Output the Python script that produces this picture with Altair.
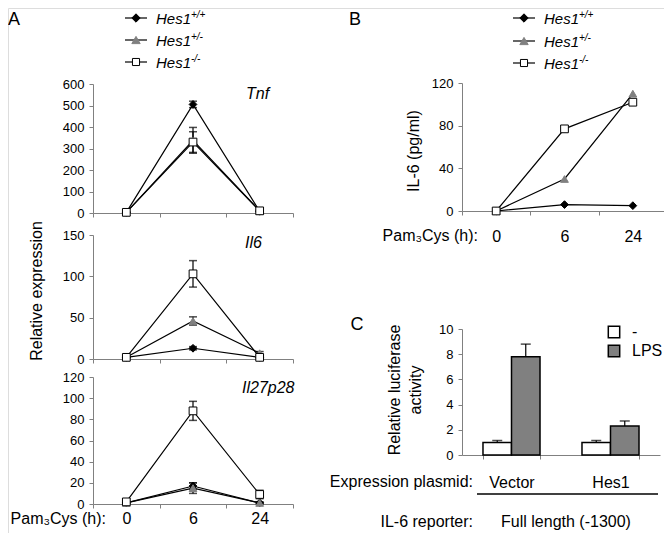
import altair as alt
import pandas as pd

# ---------------- data ----------------
times = ["0", "6", "24"]
genotypes = ["+/+", "+/-", "-/-"]

tnf_mean = {"+/+": [3, 505, 8], "+/-": [3, 338, 10], "-/-": [3, 330, 10]}
tnf_err = {"+/+": [1, 15, 2], "+/-": [1, 60, 3], "-/-": [1, 48, 3]}
il6_mean = {"+/+": [2, 13, 2], "+/-": [2, 46, 7], "-/-": [2, 103, 2]}
il6_err = {"+/+": [0.5, 2, 0.5], "+/-": [0.5, 5, 2], "-/-": [0.5, 16, 2]}
il27_mean = {"+/+": [1, 17, 1], "+/-": [1, 15, 1], "-/-": [2, 88, 9]}
il27_err = {"+/+": [0.5, 3, 0.5], "+/-": [0.5, 5, 1], "-/-": [1, 9, 4]}
elisa_il6 = {"+/+": [0, 6, 5], "+/-": [0, 30, 110], "-/-": [0, 77, 102]}

plasmids = ["Vector", "Hes1"]
treatments = ["-", "LPS"]
luc_mean = {"-": [1.0, 1.0], "LPS": [7.8, 2.3]}
luc_err = {"-": [0.15, 0.15], "LPS": [1.0, 0.4]}

# ---------------- layout / style ----------------
W, H = 656, 525
M = 8
FONT = "Liberation Sans"
GRAY = "#808080"
AX = "#808080"
SHAPES = ["diamond", "triangle-up", "square"]
FILLS = ["black", GRAY, "white"]
STROKES = ["black", GRAY, "black"]


def X(v):
    return v - M


def Y(v):
    return v - M


one = pd.DataFrame({"k": [0]})
layers = []


def txt(s, x, y, size=16, align="left", italic=False, angle=0, baseline="middle"):
    kw = dict(text=s, fontSize=size, align=align, baseline=baseline, font=FONT, color="black")
    if italic:
        kw["fontStyle"] = "italic"
    if angle:
        kw["angle"] = angle
    layers.append(alt.Chart(one).mark_text(**kw).encode(x=alt.value(X(x)), y=alt.value(Y(y))))


def series_df(means, errs=None):
    rows = []
    for g in genotypes:
        for i, t in enumerate(times):
            m = means[g][i]
            e = errs[g][i] if errs else 0
            rows.append({"g": g, "t": t, "i": i, "v": m, "lo": m - e, "hi": m + e})
    return pd.DataFrame(rows)


def x_axis(ybase, labels, pad):
    return alt.Axis(orient="bottom", offset=Y(ybase) - H, tickBand="extent", labels=labels,
                    title=None, grid=False, domainColor=AX, tickColor=AX, tickSize=4,
                    domainWidth=1, tickWidth=1, labelFontSize=16, labelColor="black",
                    labelPadding=pad, labelAngle=0, labelFont=FONT)


def y_axis(xbase, vals):
    return alt.Axis(orient="left", offset=-X(xbase), values=vals, title=None, grid=False,
                    domainColor=AX, tickColor=AX, tickSize=4, domainWidth=1, tickWidth=1,
                    labelFontSize=13, labelColor="black", labelPadding=5, labelFont=FONT)


def line_panel(df, xr, yr, ymax, yvals, show_labels, xpad, with_err):
    xs = alt.Scale(type="band", domain=times, range=[X(xr[0]), X(xr[1])], paddingInner=0, paddingOuter=0)
    ys = alt.Scale(type="linear", domain=[0, ymax], range=[Y(yr[0]), Y(yr[1])], nice=False, zero=False)
    base = alt.Chart(df)
    xn = alt.X("t:N", scale=xs, axis=None, bandPosition=0.5, sort=times)
    layers.append(base.mark_line(color="black", strokeWidth=1.2).encode(
        x=alt.X("t:N", scale=xs, axis=x_axis(yr[0], show_labels, xpad), bandPosition=0.5, sort=times),
        y=alt.Y("v:Q", scale=ys, axis=y_axis(xr[0], yvals)),
        detail="g:N", order="i:Q"))
    if with_err:
        layers.append(base.mark_rule(color="black", strokeWidth=1.2).encode(
            x=xn, y=alt.Y("lo:Q", scale=ys, axis=None), y2="hi:Q"))
        for f in ["lo", "hi"]:
            layers.append(base.mark_tick(orient="horizontal", color="black", size=8, thickness=1.5).encode(
                x=xn, y=alt.Y(f + ":Q", scale=ys, axis=None)))
    layers.append(base.mark_point(filled=True, opacity=1, strokeWidth=1, size=60).encode(
        x=xn, y=alt.Y("v:Q", scale=ys, axis=None),
        shape=alt.Shape("g:N", scale=alt.Scale(domain=genotypes, range=SHAPES), legend=None),
        fill=alt.Fill("g:N", scale=alt.Scale(domain=genotypes, range=FILLS), legend=None),
        stroke=alt.Stroke("g:N", scale=alt.Scale(domain=genotypes, range=STROKES), legend=None)))


def legend(xl0, xl1, xm, xt, ys):
    for k, (g, yy) in enumerate(zip(genotypes, ys)):
        layers.append(alt.Chart(one).mark_rule(color="black", strokeWidth=1.2).encode(
            x=alt.value(X(xl0)), x2=alt.value(X(xl1)), y=alt.value(Y(yy))))
        layers.append(alt.Chart(one).mark_point(shape=SHAPES[k], filled=True, fill=FILLS[k],
                                                stroke=STROKES[k], strokeWidth=1, opacity=1,
                                                size=70 if k != 2 else 50).encode(
            x=alt.value(X(xm)), y=alt.value(Y(yy))))
        txt("Hes1", xt, yy + 1, size=15, italic=True)
        txt(g, xt + 35, yy - 3, size=10, italic=True)


# ---------------- panel A ----------------
txt("A", 14, 20, size=18, align="center")
legend(125, 147, 136, 156, [18, 40, 62])
line_panel(series_df(tnf_mean, tnf_err), (93, 293), (213, 84), 600,
           [0, 100, 200, 300, 400, 500, 600], False, 1, True)
line_panel(series_df(il6_mean, il6_err), (93, 293), (359, 235), 150,
           [0, 50, 100, 150], False, 1, True)
line_panel(series_df(il27_mean, il27_err), (93, 293), (504, 377), 120,
           [0, 20, 40, 60, 80, 100, 120], True, 2, True)
txt("Tnf", 246, 94, italic=True)
txt("Il6", 245, 243, italic=True)
txt("Il27p28", 242, 388, italic=True)
txt("Relative expression", 37, 291, angle=270, align="center")
txt("Pam\u2083Cys (h):", 106, 519, align="right")

# ---------------- panel B ----------------
txt("B", 355, 20, size=18, align="center")
legend(513, 535, 524, 544, [18, 41, 63])
line_panel(series_df(elisa_il6), (462, 667), (211, 83), 120, [0, 40, 80, 120], True, 13, False)
txt("IL-6 (pg/ml)", 414, 151, angle=270, align="center")
txt("Pam\u2083Cys (h):", 478, 236, align="right")

# ---------------- panel C ----------------
txt("C", 357, 325, size=18, align="center")
dfc = pd.DataFrame([
    {"p": p, "tr": tr, "v": luc_mean[tr][j], "hi": luc_mean[tr][j] + luc_err[tr][j]}
    for tr in treatments for j, p in enumerate(plasmids)
])
xs_c = alt.Scale(type="band", domain=plasmids, range=[X(462), X(660)], paddingInner=0.424, paddingOuter=0.212)
xo_c = alt.Scale(type="band", domain=treatments, paddingInner=0, paddingOuter=0)
ys_c = alt.Scale(type="linear", domain=[0, 10], range=[Y(455), Y(329)], nice=False, zero=False)
basec = alt.Chart(dfc)
layers.append(basec.mark_rule(color="black", strokeWidth=1.2).encode(
    x=alt.X("p:N", scale=xs_c, axis=None, sort=plasmids),
    xOffset=alt.XOffset("tr:N", scale=xo_c, sort=treatments),
    y=alt.Y("v:Q", scale=ys_c, axis=None), y2="hi:Q"))
layers.append(basec.mark_tick(orient="horizontal", color="black", size=10, thickness=1.5).encode(
    x=alt.X("p:N", scale=xs_c, axis=None, sort=plasmids),
    xOffset=alt.XOffset("tr:N", scale=xo_c, sort=treatments),
    y=alt.Y("hi:Q", scale=ys_c, axis=None)))
layers.append(basec.mark_bar(stroke="black", strokeWidth=1.5, opacity=1).encode(
    x=alt.X("p:N", scale=xs_c, axis=x_axis(455, True, 15), sort=plasmids),
    xOffset=alt.XOffset("tr:N", scale=xo_c, sort=treatments),
    y=alt.Y("v:Q", scale=ys_c, axis=y_axis(462, [0, 2, 4, 6, 8, 10])),
    fill=alt.Fill("tr:N", scale=alt.Scale(domain=treatments, range=["white", GRAY]), legend=None)))
txt("Relative luciferase", 395, 390, angle=270, align="center")
txt("activity", 416, 390, angle=270, align="center")
for k, (tr, yy) in enumerate(zip(treatments, [332, 351])):
    layers.append(alt.Chart(one).mark_point(shape="square", filled=True, fill=["white", GRAY][k],
                                            stroke="black", strokeWidth=1.5, opacity=1, size=130).encode(
        x=alt.value(X(614)), y=alt.value(Y(yy))))
    txt(tr, 632, yy)
txt("Expression plasmid:", 473, 482, align="right")
layers.append(alt.Chart(one).mark_rule(color="black", strokeWidth=1.5).encode(
    x=alt.value(X(477)), x2=alt.value(X(658)), y=alt.value(Y(494))))
txt("IL-6 reporter:", 473, 522, align="right")
txt("Full length (-1300)", 566, 522, align="center")

chart = alt.layer(*layers).resolve_scale(
    x="independent", y="independent", shape="independent", fill="independent",
    stroke="independent", xOffset="independent"
).properties(
    width=W, height=H, padding=0, autosize=alt.AutoSizeParams(type="none")
).configure_view(stroke=None).configure(font=FONT)

chart.save("out.html", embed_options={"renderer": "svg", "actions": False})
